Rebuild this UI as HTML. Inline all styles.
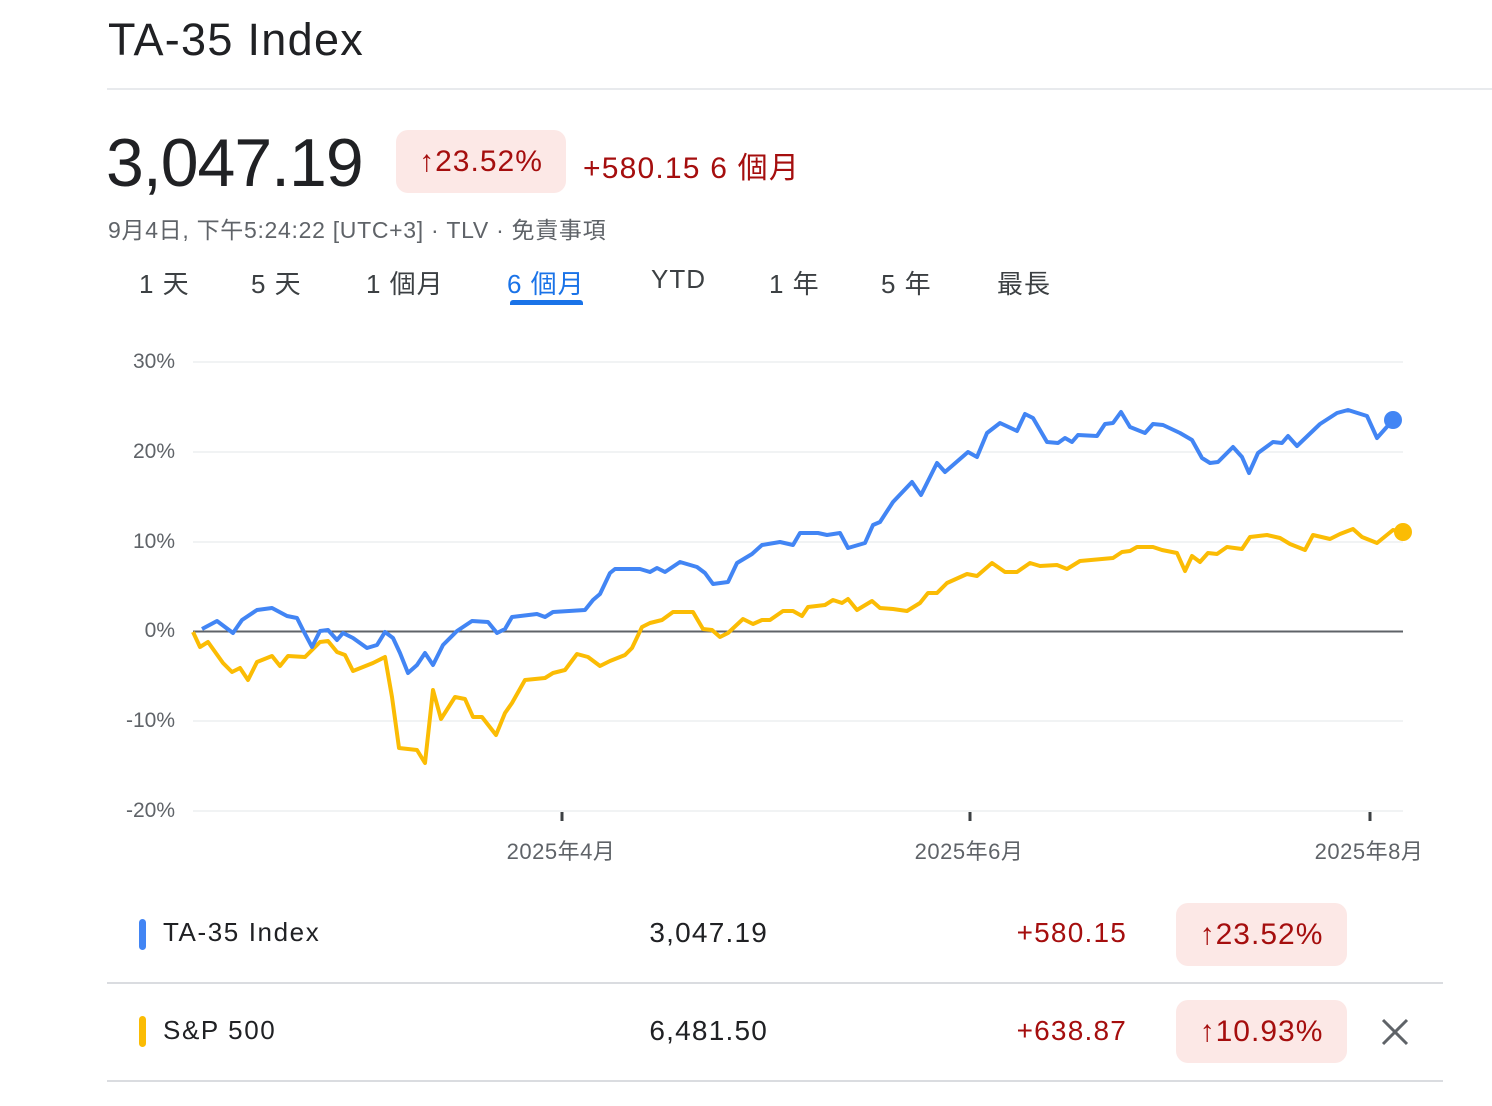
<!DOCTYPE html>
<html><head><meta charset="utf-8"><style>
body{margin:0;width:1492px;height:1106px;background:#fff;font-family:"Liberation Sans","Noto Sans CJK TC",sans-serif;color:#202124;position:relative;overflow:hidden}
.a{position:absolute;white-space:nowrap}
.pill{position:absolute;background:#fce8e6;border-radius:12px;color:#a50e0e;display:flex;align-items:center;justify-content:center;letter-spacing:1px}
.tab{position:absolute;top:264px;font-size:26px;color:#3c4043;letter-spacing:1px}
.yl{position:absolute;right:1317px;font-size:21px;color:#5f6368;text-align:right}
.xl{position:absolute;width:200px;text-align:center;top:834px;font-size:22px;color:#5f6368;letter-spacing:0.5px}
</style></head><body>
<div class="a" style="left:108px;top:14px;font-size:45px;letter-spacing:1.3px">TA-35 Index</div>
<div class="a" style="left:107px;top:88px;width:1385px;height:2px;background:#e8eaed"></div>
<div class="a" style="left:106px;top:124px;font-size:68px;letter-spacing:-1px">3,047.19</div>
<div class="pill" style="left:396px;top:130px;width:170px;height:63px;font-size:30px">↑23.52%</div>
<div class="a" style="left:583px;top:143px;font-size:30px;color:#a50e0e;letter-spacing:1.2px">+580.15 6 個月</div>
<div class="a" style="left:108px;top:211px;font-size:23px;color:#5f6368;letter-spacing:0.7px">9月4日, 下午5:24:22 [UTC+3] · TLV · 免責事項</div>
<div class="tab" style="left:139px">1 天</div>
<div class="tab" style="left:251px">5 天</div>
<div class="tab" style="left:366px">1 個月</div>
<div class="tab" style="left:507px;color:#1a73e8">6 個月</div>
<div class="a" style="left:510px;top:300px;width:73px;height:5px;background:#1a73e8;border-radius:3px 3px 0 0"></div>
<div class="tab" style="left:651px">YTD</div>
<div class="tab" style="left:769px">1 年</div>
<div class="tab" style="left:881px">5 年</div>
<div class="tab" style="left:997px">最長</div>
<div class="yl" style="top:350px">30%</div>
<div class="yl" style="top:440px">20%</div>
<div class="yl" style="top:530px">10%</div>
<div class="yl" style="top:619px">0%</div>
<div class="yl" style="top:709px">-10%</div>
<div class="yl" style="top:799px">-20%</div>
<svg class="a" style="left:0;top:0" width="1492" height="1106">
<g stroke="#f1f3f4" stroke-width="2"><line x1="193" y1="362" x2="1403" y2="362"/><line x1="193" y1="452" x2="1403" y2="452"/><line x1="193" y1="542" x2="1403" y2="542"/><line x1="193" y1="721" x2="1403" y2="721"/><line x1="193" y1="811" x2="1403" y2="811"/></g>
<line x1="193" y1="631.5" x2="1403" y2="631.5" stroke="#5f6368" stroke-width="2"/>
<g stroke="#3c4043" stroke-width="3"><line x1="562" y1="812" x2="562" y2="821"/><line x1="970" y1="812" x2="970" y2="821"/><line x1="1370" y1="812" x2="1370" y2="821"/></g>
<polyline fill="none" stroke="#fbbc04" stroke-width="4" stroke-linejoin="round" points="193,632 200,647 208,642 223,663 232,672 240,668 248,680 257,662 272,656 280,666 288,656 305,657 320,642 328,641 337,652 345,655 353,671 373,663 385,657 392,697 399,748 417,750 425,763 433,690 441,719 455,697 465,699 473,717 482,717 496,735 505,713 512,703 525,680 545,678 553,673 565,670 577,654 588,657 600,666 610,661 625,655 632,648 642,627 650,623 662,620 673,612 693,612 703,629 712,630 720,637 728,633 743,619 753,624 762,620 770,620 783,611 793,611 802,616 808,607 825,605 833,600 842,603 848,599 857,610 872,601 880,608 893,609 907,611 920,603 928,593 937,593 947,583 967,574 977,576 992,563 1005,572 1017,572 1030,563 1040,566 1057,565 1067,569 1080,561 1113,558 1122,552 1130,551 1137,547 1153,547 1162,550 1177,553 1185,571 1192,556 1200,562 1208,553 1217,554 1227,547 1242,549 1250,537 1267,535 1280,538 1290,544 1305,550 1313,535 1330,539 1340,534 1353,529 1362,537 1377,543 1393,530 1403,532"/>
<polyline fill="none" stroke="#4285f4" stroke-width="4" stroke-linejoin="round" points="202,629 217,621 233,633 242,620 257,610 272,608 287,616 297,618 303,630 312,647 320,631 328,630 337,640 343,633 353,638 367,648 377,645 385,632 393,638 400,653 408,673 417,665 425,653 433,665 443,645 457,631 472,621 488,622 497,633 505,629 512,617 537,614 545,617 553,612 585,610 593,600 600,594 610,573 615,569 640,569 650,572 657,568 665,572 680,562 697,567 705,573 713,584 728,582 737,563 752,554 762,545 780,542 793,545 800,533 818,533 827,535 840,533 848,548 865,543 873,525 880,522 893,502 912,482 921,495 937,463 945,472 968,452 977,457 987,433 1000,423 1017,431 1025,414 1033,418 1047,442 1058,443 1065,438 1072,442 1078,435 1097,436 1105,424 1113,423 1121,412 1130,427 1145,433 1153,424 1163,425 1180,433 1192,440 1202,458 1210,463 1218,462 1233,447 1242,457 1249,473 1258,453 1273,442 1282,443 1288,436 1297,446 1320,424 1337,413 1348,410 1367,416 1377,438 1393,420"/>
<circle cx="1393" cy="420" r="9" fill="#4285f4"/>
<circle cx="1403" cy="532" r="9" fill="#fbbc04"/>
<g stroke="#5f6368" stroke-width="3"><line x1="1383" y1="1020" x2="1407" y2="1044"/><line x1="1407" y1="1020" x2="1383" y2="1044"/></g>
</svg>
<div class="xl" style="left:461px">2025年4月</div>
<div class="xl" style="left:869px">2025年6月</div>
<div class="xl" style="left:1269px">2025年8月</div>

<div class="a" style="left:139px;top:919px;width:7px;height:31px;background:#4285f4;border-radius:4px"></div>
<div class="a" style="left:163px;top:917px;font-size:26px;letter-spacing:1.6px">TA-35 Index</div>
<div class="a" style="left:600px;width:168px;text-align:right;top:917px;font-size:28px;letter-spacing:1.2px">3,047.19</div>
<div class="a" style="left:950px;width:177px;text-align:right;top:917px;font-size:28px;color:#a50e0e;letter-spacing:1.2px">+580.15</div>
<div class="pill" style="left:1176px;top:903px;width:171px;height:63px;font-size:30px">↑23.52%</div>
<div class="a" style="left:107px;top:982px;width:1336px;height:2px;background:#dadce0"></div>
<div class="a" style="left:139px;top:1016px;width:7px;height:31px;background:#fbbc04;border-radius:4px"></div>
<div class="a" style="left:163px;top:1015px;font-size:26px;letter-spacing:1.6px">S&amp;P 500</div>
<div class="a" style="left:600px;width:168px;text-align:right;top:1015px;font-size:28px;letter-spacing:1.2px">6,481.50</div>
<div class="a" style="left:950px;width:177px;text-align:right;top:1015px;font-size:28px;color:#a50e0e;letter-spacing:1.2px">+638.87</div>
<div class="pill" style="left:1176px;top:1000px;width:171px;height:63px;font-size:30px">↑10.93%</div>
<div class="a" style="left:107px;top:1080px;width:1336px;height:2px;background:#dadce0"></div>
</body></html>
